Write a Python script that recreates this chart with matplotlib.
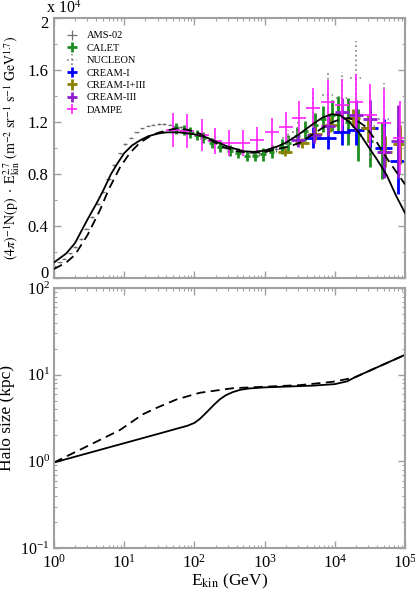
import numpy as np
import matplotlib
matplotlib.use("Agg")
import matplotlib.pyplot as plt
from matplotlib.ticker import LogLocator, NullFormatter, MultipleLocator, FixedLocator
from matplotlib.transforms import ScaledTranslation

plt.rcParams['font.family'] = ['Liberation Serif', 'DejaVu Serif']
plt.rcParams['mathtext.fontset'] = 'stix'

# ---- data (flux in units of 1e4) ----
ams_e = [1.0, 1.2, 1.4, 1.7, 2.0, 2.4, 2.9, 3.5, 4.2, 5.0, 6.0, 7.2, 8.7, 10.4, 12.5, 15, 18,
         21.6, 26, 31, 37, 45, 54, 65, 78, 93, 112, 134, 161, 193, 232, 278, 334, 400, 480,
         576, 691, 830, 996, 1200, 1440, 1730]
ams_v = [0.09, 0.12, 0.15, 0.19, 0.24, 0.30, 0.38, 0.47, 0.57, 0.66, 0.76, 0.87, 0.96, 1.03,
         1.08, 1.12, 1.15, 1.17, 1.18, 1.185, 1.185, 1.18, 1.17, 1.16, 1.14, 1.12, 1.10, 1.08,
         1.06, 1.04, 1.02, 1.00, 0.99, 0.98, 0.97, 0.96, 0.96, 0.96, 0.97, 0.98, 0.99, 1.00]
ams_err = [0.005] * 30 + [0.01] * 6 + [0.02] * 6

calet_e = [55, 70, 88, 110, 132, 178, 231, 321, 418, 560, 730, 945, 1260, 1770, 2140, 2900,
           3760, 5200, 6780, 9100, 11000, 15400, 21400, 31800, 46600]
calet_v = [1.15, 1.14, 1.12, 1.10, 1.08, 1.04, 1.01, 0.98, 0.96, 0.94, 0.94, 0.95, 0.97, 1.01,
           1.04, 1.09, 1.13, 1.18, 1.22, 1.25, 1.26, 1.20, 1.10, 1.05, 0.98]
calet_err = [0.04, 0.04, 0.04, 0.04, 0.04, 0.04, 0.04, 0.04, 0.04, 0.04, 0.04, 0.05, 0.05,
             0.06, 0.06, 0.07, 0.08, 0.09, 0.10, 0.12, 0.14, 0.18, 0.20, 0.20, 0.22]

nuc_e = [2150, 3000, 4900, 7900, 12600, 19900, 31500, 49500]
nuc_v = [1.08, 1.12, 1.31, 1.41, 1.38, 1.54, 1.17, 1.22]
nuc_err = [0.06, 0.08, 0.12, 0.18, 0.20, 0.28, 0.25, 0.28]

cream1_e = [4900, 7900, 12600, 19900, 31500, 49500, 80000]
cream1_v = [1.08, 1.08, 1.12, 1.14, 1.15, 1.00, 0.90]
cream1_err = [0.08, 0.09, 0.10, 0.12, 0.14, 0.22, 0.25]

cream13_e = [1950, 3400, 5200, 8600, 18000, 30000, 52000, 85000]
cream13_v = [0.97, 1.04, 1.11, 1.18, 1.23, 1.15, 0.97, 1.03]
cream13_err = [0.03, 0.04, 0.05, 0.06, 0.07, 0.10, 0.12, 0.15]

cream3_e = [3000, 5000, 8000, 12600, 20000, 31500, 50000, 80000]
cream3_v = [1.06, 1.10, 1.17, 1.28, 1.25, 1.22, 0.97, 1.05]
cream3_err = [0.05, 0.06, 0.08, 0.10, 0.12, 0.15, 0.20, 0.28]

dampe_e = [50, 78, 128, 196, 310, 490, 780, 1270, 2000, 3100, 4900, 7900, 12600, 19900,
           31500, 49500, 84000]
dampe_v = [1.14, 1.13, 1.10, 1.05, 1.04, 1.04, 1.06, 1.12, 1.16, 1.23, 1.31, 1.35, 1.33, 1.35,
           1.25, 1.19, 1.08]
dampe_err = [0.13, 0.13, 0.12, 0.10, 0.10, 0.10, 0.10, 0.11, 0.12, 0.13, 0.15, 0.17, 0.20,
             0.22, 0.24, 0.26, 0.28]

solid_e = [1, 1.5, 2, 3, 4, 5, 6.5, 8, 10, 13, 17, 22, 30, 40, 60, 100, 150, 200, 300, 500,
           700, 1000, 1500, 2000, 3000, 4500, 6500, 9000, 12000, 16000, 22000, 30000, 40000,
           55000, 75000, 100000]
solid_v = [0.12, 0.19, 0.27, 0.45, 0.57, 0.67, 0.80, 0.88, 0.96, 1.02, 1.06, 1.09, 1.11, 1.12,
           1.12, 1.105, 1.08, 1.05, 1.01, 0.975, 0.97, 0.98, 1.01, 1.04, 1.10, 1.17, 1.23, 1.26,
           1.25, 1.20, 1.12, 1.01, 0.91, 0.79, 0.63, 0.50]

dash_e = [1, 1.5, 2, 3, 4.5, 6, 8.7, 12, 16.7, 25, 32, 45, 56, 80, 120, 170, 250, 400, 600,
          1000, 1500, 2200, 3200, 5000, 7000, 9400, 13000, 16000, 22000, 28000, 38000, 52000,
          70000, 100000]
dash_v = [0.07, 0.12, 0.18, 0.33, 0.52, 0.68, 0.85, 0.96, 1.04, 1.10, 1.12, 1.14, 1.15, 1.14,
          1.11, 1.06, 1.01, 0.975, 0.965, 0.97, 0.99, 1.01, 1.04, 1.11, 1.16, 1.20, 1.225,
          1.23, 1.20, 1.16, 1.06, 0.94, 0.84, 0.72]

halo_solid_e = [1, 30, 60, 80, 100, 120, 150, 190, 230, 280, 350, 450, 600, 1000, 2000, 5000,
                10000, 15000, 19000, 100000]
halo_solid_h = [0.97, 2.07, 2.42, 2.58, 2.78, 3.1, 3.7, 4.5, 5.2, 5.8, 6.3, 6.7, 6.95, 7.15,
                7.3, 7.5, 7.8, 8.4, 9.3, 17.0]
halo_dash_e = [1, 3, 8.7, 18.5, 30, 56, 120, 355, 1080, 3200, 9400, 18000, 19000, 100000]
halo_dash_h = [0.97, 1.5, 2.3, 3.5, 4.2, 5.2, 6.2, 7.0, 7.3, 7.6, 8.3, 9.2, 9.3, 17.0]

spine_c = '#a0a0a0'


def xerr_of(e, dec):
    e = np.asarray(e, float)
    return [e - e / 10 ** dec, e * 10 ** dec - e]


def style_axes(ax):
    ax.set_xscale('log')
    ax.set_xlim(1, 1e5)
    for s in ax.spines.values():
        s.set_color(spine_c)
        s.set_linewidth(1.5)
    ax.tick_params(which='both', direction='in', top=True, right=True, color=spine_c,
                   labelsize=12, pad=4)
    ax.tick_params(which='major', length=5, width=1)
    ax.tick_params(which='minor', length=2.5, width=0.8)
    ax.xaxis.set_major_locator(LogLocator(base=10, numticks=10))
    ax.xaxis.set_minor_locator(LogLocator(base=10, subs=np.arange(2, 10), numticks=20))
    ax.xaxis.set_minor_formatter(NullFormatter())


def shift_label(lab, dy_px):
    lab.set_transform(lab.get_transform() +
                      ScaledTranslation(0, dy_px / 100, fig.dpi_scale_trans))


fig = plt.figure(figsize=(4.15, 5.93), dpi=100)
ax1 = fig.add_axes([0.130, 0.531, 0.846, 0.439])
ax2 = fig.add_axes([0.130, 0.076, 0.846, 0.438])

# top panel
sets = [
    ('AMS-02', ams_e, ams_v, ams_err, '#707070', 0.03, 0.9, '-'),
    ('CALET', calet_e, calet_v, calet_err, '#1e8c1e', 0.04, 2.0, '-'),
    ('NUCLEON', nuc_e, nuc_v, nuc_err, '#909090', 0.08, 1.3, ':'),
    ('CREAM-I', cream1_e, cream1_v, cream1_err, '#0000ff', 0.12, 2.0, '-'),
    ('CREAM-I+III', cream13_e, cream13_v, cream13_err, '#8c8000', 0.10, 2.0, '-'),
    ('CREAM-III', cream3_e, cream3_v, cream3_err, '#8e1ed0', 0.10, 2.0, '-'),
    ('DAMPE', dampe_e, dampe_v, dampe_err, '#ff20ff', 0.10, 1.2, '-'),
]
for name, e, v, err, c, dec, lw, ls in sets:
    eb = ax1.errorbar(e, v, yerr=err, xerr=xerr_of(e, dec), fmt='none', ecolor=c,
                      elinewidth=lw, capsize=0, label=name)
    if ls != '-':
        for lc in eb[2]:
            lc.set_linestyle(ls)

ax1.plot(solid_e, solid_v, color='black', lw=1.3, zorder=10)
ax1.plot(dash_e, dash_v, color='black', lw=1.3, dashes=(5, 3), zorder=10)

style_axes(ax1)
ax1.set_ylim(0, 2)
ax1.yaxis.set_major_locator(FixedLocator([0, 0.4, 0.8, 1.2, 1.6, 2.0]))
ax1.yaxis.set_minor_locator(MultipleLocator(0.2))
ax1.set_yticklabels(['0', '0.4', '0.8', '1.2', '1.6', '2'])
labs = ax1.get_yticklabels()
shift_label(labs[0], 6)    # "0" sits a bit higher
shift_label(labs[-1], -4)  # "2" sits a bit lower, under the x 10^4
ax1.tick_params(axis='x', which='both', labelbottom=False)
ax1.set_ylabel(r'$(4\pi)^{-1}\mathrm{N(p)}\ \cdot\ \mathrm{E}_{\mathrm{kin}}^{2.7}\ '
               r'(\mathrm{m}^{-2}\ \mathrm{sr}^{-1}\ \mathrm{s}^{-1}\ \mathrm{GeV}^{1.7})$',
               fontsize=10)
ax1.yaxis.set_label_coords(-0.092, 0.5)
ax1.text(-0.022, 1.02, r'x 10$^4$', transform=ax1.transAxes, ha='left', va='baseline',
         fontsize=11.5)
leg = ax1.legend(loc='upper left', fontsize=7.5, frameon=False, handlelength=1.3,
                 handletextpad=0.8, labelspacing=0.3, borderaxespad=0.0,
                 bbox_to_anchor=(0.02, 0.965))

# bottom panel
ax2.plot(halo_solid_e, halo_solid_h, color='black', lw=1.3)
ax2.plot(halo_dash_e, halo_dash_h, color='black', lw=1.3, dashes=(5, 3))
style_axes(ax2)
ax2.set_yscale('log')
ax2.set_ylim(0.1, 100)
ax2.yaxis.set_minor_locator(LogLocator(base=10, subs=np.arange(2, 10), numticks=20))
ax2.yaxis.set_minor_formatter(NullFormatter())
ax2.tick_params(axis='y', labelsize=11.5, pad=3)
ax2.set_ylabel('Halo size (kpc)', fontsize=12.5)
ax2.yaxis.set_label_coords(-0.11, 0.5)
ax2.set_xlabel(r'E$_{\mathrm{kin}}$ (GeV)', fontsize=12.5, labelpad=0)

fig.savefig('out.png', dpi=100)
